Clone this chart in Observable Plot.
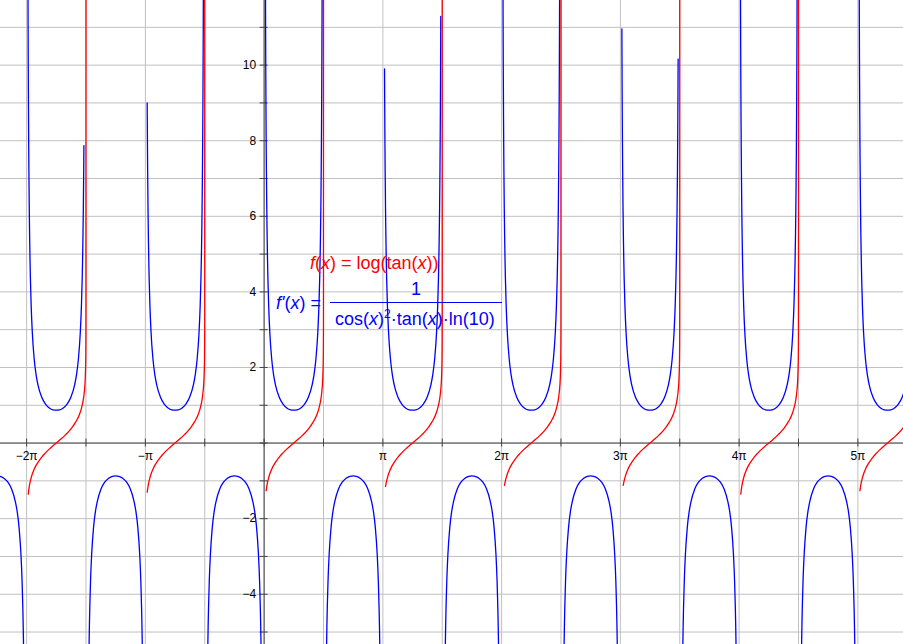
<!DOCTYPE html>
<html>
<head>
<meta charset="utf-8">
<script src="https://cdn.jsdelivr.net/npm/d3@7"></script>
<script src="https://cdn.jsdelivr.net/npm/@observablehq/plot@0.6"></script>
<style>
  body { margin: 0; background: #fff; }
  #wrap { position: relative; width: 903px; height: 644px; font-family: "Liberation Sans", Arial, sans-serif; }
  #wrap svg { display: block; }
  .lbl { position: absolute; white-space: nowrap; font-size: 18px; line-height: 18px; }
  .red { color: #ff0000; }
  .blue { color: #0000ff; }
  .it { font-style: italic; }
  .bar { position: absolute; height: 0; border-top: 1px solid #0000ff; }
  .sup { font-size: 12px; position: relative; top: -7px; }
</style>
</head>
<body>
<div id="wrap"></div>
<script>
// period index k (branch starts at k·π)
const periods = [-3, -2, -1, 0, 1, 2, 3, 4, 5];

// f'(x) positive branch: offset from k·π
const blueUpOffset = [0.0350, 0.0385, 0.0397, 0.0428, 0.0439, 0.0450, 0.0483, 0.0500, 0.0553, 0.0600, 0.0700, 0.0800, 0.0900, 0.1000, 0.1200, 0.1500, 0.2000, 0.2500, 0.3000, 0.4000, 0.5000, 0.6000, 0.7000, 0.7854,
  0.8708, 0.9708, 1.0708, 1.1708, 1.2708, 1.3208, 1.3708, 1.4208, 1.4508, 1.4708, 1.4808, 1.4908, 1.5008, 1.5108, 1.5155, 1.5208, 1.5225, 1.5258, 1.5269, 1.5280, 1.5311, 1.5323, 1.5358];
const blueUpValue = [12.42, 11.29, 10.96, 10.16, 9.90, 9.66, 9.00, 8.70, 7.87, 7.26, 6.22, 5.45, 4.85, 4.37, 3.65, 2.94, 2.23, 1.81, 1.54, 1.21, 1.03, 0.93, 0.88, 0.87,
  0.88, 0.93, 1.03, 1.21, 1.54, 1.81, 2.23, 2.94, 3.65, 4.37, 4.85, 5.45, 6.22, 7.26, 7.87, 8.70, 9.00, 9.66, 9.90, 10.16, 10.96, 11.29, 12.42];

// f'(x) negative branch: offset from k·π, value
const blueDownOffset = [1.6408, 1.6508, 1.6608, 1.6708, 1.6908, 1.7208, 1.7708, 1.8208, 1.8708, 1.9708, 2.0708, 2.1708, 2.2708, 2.3562,
  2.4416, 2.5416, 2.6416, 2.7416, 2.8416, 2.8916, 2.9416, 2.9916, 3.0216, 3.0416, 3.0516, 3.0616, 3.0716];
const blueDownValue = [-6.22, -5.45, -4.85, -4.37, -3.65, -2.94, -2.23, -1.81, -1.54, -1.21, -1.03, -0.93, -0.88, -0.87,
  -0.88, -0.93, -1.03, -1.21, -1.54, -1.81, -2.23, -2.94, -3.65, -4.37, -4.85, -5.45, -6.22];

// f(x) = log(tan(x)) branch: offset from k·π, value
const redOffset = [0.045, 0.050, 0.055, 0.060, 0.065, 0.070, 0.075, 0.080, 0.090, 0.100, 0.120, 0.150, 0.200, 0.250, 0.300, 0.400, 0.500, 0.600, 0.700, 0.7854,
  0.900, 1.000, 1.100, 1.200, 1.300, 1.400, 1.450, 1.500, 1.530, 1.550, 1.560, 1.565, 1.568, 1.5700, 1.5705, 1.5707, 1.5708];
const redValue = [-1.35, -1.30, -1.26, -1.22, -1.19, -1.15, -1.12, -1.10, -1.04, -1.00, -0.92, -0.82, -0.69, -0.59, -0.51, -0.37, -0.26, -0.16, -0.07, 0,
  0.10, 0.19, 0.29, 0.41, 0.56, 0.76, 0.92, 1.15, 1.39, 1.68, 1.97, 2.24, 2.55, 3.10, 3.53, 4.02, 12];

// where the drawn spikes stop (null = runs off the top), and where red starts, per period
const blueLeftCap  = [null, null, 9.00, null, 9.90, null, 10.96, null, null];
const blueRightCap = [null, 7.87, null, null, 11.29, null, 10.16, null, null];
const redStart     = [null, -1.35, -1.30, -1.26, -1.15, -1.12, -1.12, -1.35, -1.26];

// axes
const xTickMultiples = [-2, -1, 1, 2, 3, 4, 5];
const xTickLabels = ["−2π", "−π", "π", "2π", "3π", "4π", "5π"];
const yTickValues = [10, 8, 6, 4, 2, -2, -4];
const yTickLabels = ["10", "8", "6", "4", "2", "−2", "−4"];
const xGridHalfPi = [-4, -3, -2, -1, 0, 1, 2, 3, 4, 5, 6, 7, 8, 9, 10];
const yGridValues = [-5, -4, -3, -2, -1, 0, 1, 2, 3, 4, 5, 6, 7, 8, 9, 10, 11];

const xDomain = [-6.974, 16.915];
const yDomain = [-5.33, 11.71];

// build tables
const blueRows = [];
const redRows = [];
periods.forEach((k, i) => {
  const base = k * Math.PI;
  blueUpOffset.forEach((t, j) => {
    const y = blueUpValue[j];
    const cap = t < Math.PI / 4 ? blueLeftCap[i] : blueRightCap[i];
    if (cap != null && y > cap + 0.001) return;
    blueRows.push({x: base + t, y, s: "up" + k});
  });
  blueDownOffset.forEach((t, j) => {
    blueRows.push({x: base + t, y: blueDownValue[j], s: "down" + k});
  });
  if (redStart[i] != null) {
    redOffset.forEach((t, j) => {
      const y = redValue[j];
      if (y < redStart[i] - 0.005) return;
      redRows.push({x: base + t, y, s: "red" + k});
    });
  }
});

const xTickPos = xGridHalfPi.map(m => m * Math.PI / 2);

const chart = Plot.plot({
  width: 903,
  height: 644,
  margin: 0,
  x: {domain: xDomain, axis: null},
  y: {domain: yDomain, axis: null},
  style: {fontFamily: "'Liberation Sans', Arial, sans-serif", background: "#fff"},
  marks: [
    Plot.ruleX(xTickPos, {x: d => d, stroke: "#c0c0c0", strokeWidth: 1}),
    Plot.ruleY(yGridValues, {y: d => d, stroke: "#c0c0c0", strokeWidth: 1}),
    Plot.ruleY([0], {stroke: "#444", strokeWidth: 1}),
    Plot.ruleX([0], {stroke: "#444", strokeWidth: 1}),
    Plot.ruleX(xTickPos, {x: d => d, y1: 0, y2: 0, insetTop: -4, insetBottom: -4, stroke: "#444"}),
    Plot.ruleY(yGridValues, {y: d => d, x1: 0, x2: 0, insetLeft: -4, insetRight: -4, stroke: "#444"}),
    Plot.text(xTickMultiples, {x: d => d * Math.PI, y: 0, text: (d, i) => xTickLabels[i], dy: 13, fontSize: 12, fill: "#000", lineAnchor: "middle"}),
    Plot.text(yTickValues, {x: 0, y: d => d, text: (d, i) => yTickLabels[i], dx: -8, textAnchor: "end", fontSize: 12, fill: "#000", lineAnchor: "middle"}),
    Plot.line(blueRows, {x: "x", y: "y", z: "s", stroke: "#0000ff", strokeWidth: 1.3, curve: "monotone-x", clip: true}),
    Plot.line(redRows, {x: "x", y: "y", z: "s", stroke: "#ff0000", strokeWidth: 1.3, curve: "monotone-x", clip: true})
  ]
});

const wrap = document.getElementById("wrap");
wrap.appendChild(chart);

const overlay = `
<div class="lbl red" style="left:310px;top:254px;"><span class="it">f</span>(<span class="it">x</span>) = log(tan(<span class="it">x</span>))</div>
<div class="lbl blue" style="left:276px;top:294px;"><span class="it">f'</span>(<span class="it">x</span>) =</div>
<div class="lbl blue" style="left:411px;top:280px;">1</div>
<div class="bar" style="left:330px;top:302px;width:172px;"></div>
<div class="lbl blue" style="left:335px;top:310px;">cos(<span class="it">x</span>)<span class="sup">2</span>·tan(<span class="it">x</span>)·ln(10)</div>
`;
wrap.insertAdjacentHTML("beforeend", overlay);
</script>
</body>
</html>
